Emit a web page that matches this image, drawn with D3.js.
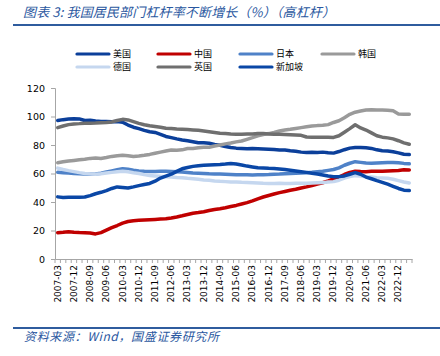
<!DOCTYPE html>
<html><head><meta charset="utf-8">
<script src="https://cdn.jsdelivr.net/npm/d3@7"></script>
<style>body{margin:0;background:#fff}svg{display:block}</style>
</head><body>
<svg id="c" width="440" height="356"></svg>
<script>
// quarters 2007-03 .. 2023-06
const quarters = [];
for (let y = 2007; y <= 2023; y++) for (const m of ["03","06","09","12"]) { const q = y + "-" + m; quarters.push(q); if (q === "2023-06") break; }
const tickLabels = ["2007-03","2007-12","2008-09","2009-06","2010-03","2010-12","2011-09","2012-06","2013-03","2013-12","2014-09","2015-06","2016-03","2016-12","2017-09","2018-06","2019-03","2019-12","2020-09","2021-06","2022-03","2022-12"];
const yTicks = [0,20,40,60,80,100,120];

const usa = [97.2,97.8,98.2,98.5,98.3,97.2,97.3,96.8,96.5,96.5,96.4,96.5,96.0,94.0,92.5,91.5,90.3,89.3,88.8,87.5,86.0,85.2,84.3,83.5,83.0,82.3,81.6,81.5,81.2,80.3,79.8,79.0,78.3,77.8,77.6,77.3,77.5,77.4,77.2,77.0,76.8,76.5,76.5,76.0,75.6,75.0,74.8,74.9,74.8,75.0,74.6,74.3,75.4,76.7,77.8,78.3,78.3,78.0,77.6,76.6,76.0,75.8,75.3,74.5,73.5,73.3];
const china = [18.5,18.8,19.2,18.8,18.6,18.5,18.3,17.6,18.5,20.2,22.0,23.5,25.2,26.3,26.9,27.2,27.4,27.6,27.8,28.0,28.2,28.8,29.5,30.3,31.2,32.1,32.6,33.2,34.0,34.7,35.3,36.0,36.8,37.6,38.6,39.6,40.8,42.2,43.5,44.6,45.6,46.6,47.4,48.2,48.9,49.8,50.6,51.5,52.6,53.5,54.8,56.2,57.5,59.3,60.8,61.6,61.4,61.3,61.5,61.5,61.6,61.8,62.0,62.1,62.6,62.5];
const japan = [60.8,60.6,60.3,60.0,59.8,59.6,59.5,59.6,60.2,61.0,61.8,62.6,63.4,63.0,62.3,61.8,61.5,61.4,61.4,61.5,61.5,61.4,61.2,61.0,60.7,60.4,60.2,60.0,59.8,59.7,59.6,59.5,59.3,59.1,59.1,59.1,59.0,59.1,59.2,59.3,59.5,59.6,59.8,60.0,60.1,60.3,60.5,60.8,61.2,61.6,62.2,62.8,64.0,65.8,67.2,68.3,67.8,67.3,67.2,67.4,67.6,67.7,67.8,67.5,67.1,66.8];
const korea = [67.6,68.2,68.8,69.2,69.6,70.0,70.6,70.8,70.5,71.2,72.0,72.4,72.8,72.5,72.0,72.3,72.8,73.4,74.2,75.0,75.8,76.5,76.3,76.6,77.5,77.6,78.1,78.5,78.4,79.3,80.0,80.8,81.4,82.2,82.8,84.0,85.2,86.5,87.4,88.0,88.8,89.8,90.5,91.0,91.6,92.2,92.8,93.3,93.6,93.8,94.3,95.8,97.0,99.2,101.5,103.0,103.8,104.5,104.8,104.6,104.5,104.4,104.0,101.8,101.5,101.6];
const germany = [63.8,62.8,62.0,61.3,60.6,60.0,59.7,59.5,59.8,60.3,60.8,61.3,61.6,61.2,60.5,60.0,59.2,58.6,58.3,58.0,57.8,57.6,57.2,57.0,56.6,56.3,55.9,55.5,55.2,54.8,54.5,54.3,54.1,54.0,53.8,53.7,53.5,53.3,53.1,53.0,53.0,53.1,53.0,53.0,53.1,53.1,53.2,53.4,53.5,53.6,54.0,54.3,55.3,56.8,57.8,58.5,58.2,57.8,57.5,57.0,56.8,56.6,56.0,55.0,54.0,53.3];
const uk = [92.2,93.3,94.3,94.8,95.0,95.3,95.3,95.4,95.6,95.8,96.2,97.2,98.0,97.6,96.4,95.2,94.2,93.5,93.0,92.5,91.8,91.5,91.2,91.0,90.8,90.6,90.3,89.8,89.3,88.8,88.3,88.0,87.7,87.6,87.6,87.7,87.8,88.0,88.0,87.8,87.6,87.5,87.4,87.2,87.0,86.8,85.6,85.4,85.5,85.4,85.4,85.3,86.5,89.0,91.5,94.2,92.0,90.5,88.5,86.5,85.5,85.0,84.3,83.0,81.5,80.5];
const singapore = [43.6,43.2,43.3,43.3,43.4,43.5,44.5,45.8,46.8,48.0,49.5,50.6,50.2,49.8,50.6,51.5,52.3,53.0,54.6,56.8,58.2,59.5,61.5,63.3,64.2,65.0,65.5,65.8,66.0,66.2,66.3,66.6,67.0,66.7,66.0,65.2,64.6,64.0,63.8,63.6,63.5,63.2,62.8,62.3,61.8,61.3,60.8,60.2,59.7,59.0,58.3,57.8,57.8,58.3,59.5,60.6,59.5,57.5,56.3,55.0,53.8,52.5,51.0,49.5,48.3,48.0];

const seriesNames = ["美国","中国","日本","韩国","德国","英国","新加坡"];
const seriesValues = [usa, china, japan, korea, germany, uk, singapore];
const seriesColors = ["#0b3f9a","#c00000","#4f82c8","#9a9a9a","#c5d7ef","#6f6f6f","#0a47a6"];

const svg = d3.select("#c");
const blue = "#2f5c9e";

// title
svg.append("text").attr("x", 23).attr("y", 17)
  .attr("font-family", "'Noto Sans CJK SC'").attr("font-size", 13).attr("font-style", "italic")
  .attr("textLength", 312).attr("lengthAdjust", "spacing")
  .attr("fill", "#2a57a0").text("图表 3:  我国居民部门杠杆率不断增长（%）（高杠杆）");
svg.append("line").attr("x1", 13).attr("x2", 440).attr("y1", 25).attr("y2", 25).attr("stroke", blue).attr("stroke-width", 2);

// footer
svg.append("line").attr("x1", 13).attr("x2", 440).attr("y1", 328).attr("y2", 328).attr("stroke", blue).attr("stroke-width", 2);
svg.append("text").attr("x", 24).attr("y", 341)
  .attr("font-family", "'Noto Sans CJK SC'").attr("font-size", 12).attr("font-style", "italic")
  .attr("textLength", 195).attr("lengthAdjust", "spacing")
  .attr("fill", "#2a57a0").text("资料来源：Wind，国盛证券研究所");

// scales
const x = d3.scaleBand().domain(quarters).range([55, 412]);
const y = d3.scaleLinear().domain([0, 120]).range([259, 88]);
const cx = d => x(d) + x.bandwidth() / 2;

// y axis
const yAxis = svg.append("g").attr("transform", "translate(55,0)")
  .call(d3.axisLeft(y).tickValues(yTicks).tickSize(4).tickPadding(6).tickFormat(d3.format("d")));
yAxis.selectAll("text").attr("font-family", "'DejaVu Sans'").attr("font-size", 9.5).attr("fill", "#000");
yAxis.selectAll("line,path").attr("stroke", "#a6a6a6");

// x axis
const xAxis = svg.append("g").attr("transform", "translate(0,259)")
  .call(d3.axisBottom(x).tickValues(tickLabels).tickSize(0).tickPadding(6));
xAxis.select("path").attr("stroke", "#a6a6a6");
xAxis.selectAll("text").attr("font-family", "'DejaVu Sans'").attr("font-size", 9).attr("fill", "#000")
  .attr("transform", "rotate(-90)").attr("text-anchor", "end").attr("x", -6).attr("y", 0).attr("dy", "0.32em");
// minor ticks at category boundaries
const bounds = quarters.map(q => x(q)).concat([x.range()[1]]);
svg.append("g").selectAll("line").data(bounds).join("line")
  .attr("x1", d => d).attr("x2", d => d).attr("y1", 259).attr("y2", 263).attr("stroke", "#a6a6a6");

// lines
const line = d3.line().x((d, i) => cx(quarters[i])).y(d => y(d)).curve(d3.curveLinear);
seriesValues.forEach((vals, k) => {
  svg.append("path").datum(vals).attr("d", line).attr("fill", "none")
    .attr("stroke", seriesColors[k]).attr("stroke-width", 3.5).attr("stroke-linejoin", "round").attr("stroke-linecap", "round");
});

// legend
const legPos = [[77,54],[158,54],[240,54],[322,54],[77,67],[158,67],[240,67]];
seriesNames.forEach((n, k) => {
  const [lx, ly] = legPos[k];
  svg.append("line").attr("x1", lx).attr("x2", lx + 32).attr("y1", ly).attr("y2", ly)
    .attr("stroke", seriesColors[k]).attr("stroke-width", 3.2).attr("stroke-linecap", "round");
  svg.append("text").attr("x", lx + 36).attr("y", ly + 3.3)
    .attr("font-family", "'Noto Sans CJK SC'").attr("font-size", 9).attr("fill", "#000").text(n);
});
</script>
</body></html>
